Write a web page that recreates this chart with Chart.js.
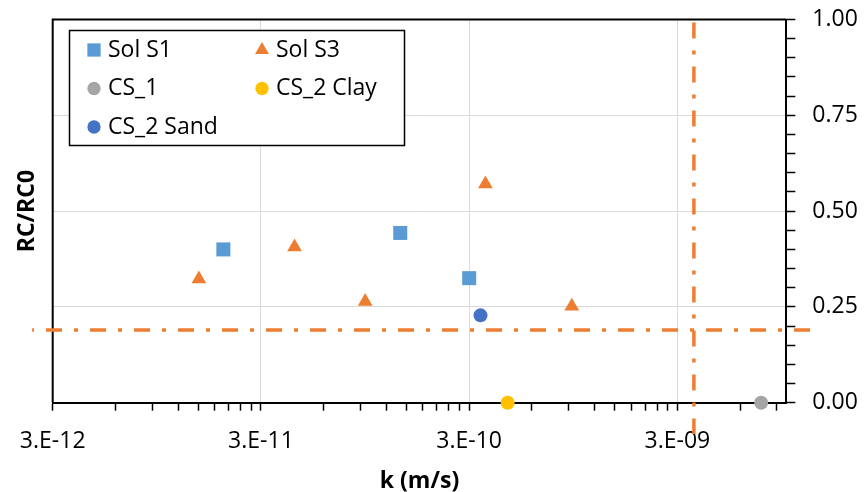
<!DOCTYPE html>
<html lang="en">
<head>
<meta charset="UTF-8">
<title>RC/RC0 vs k</title>
<script src="https://cdn.jsdelivr.net/npm/chart.js"></script>
<style>
  body { margin: 0; background: #fff; }
  #chart { display: block; }
</style>
</head>
<body>
<canvas id="chart" width="864" height="492"></canvas>
<script>
  // k (m/s) and RC/RC0 for each series
  const solS1K = [1.98e-11, 1.40e-10, 3.0e-10];
  const solS1RC = [0.40, 0.443, 0.325];
  const solS3K = [1.51e-11, 4.35e-11, 9.5e-11, 3.59e-10, 9.33e-10];
  const solS3RC = [0.323, 0.406, 0.264, 0.571, 0.252];
  const cs1K = [7.57e-9];
  const cs1RC = [0];
  const cs2ClayK = [4.59e-10];
  const cs2ClayRC = [0];
  const cs2SandK = [3.4e-10];
  const cs2SandRC = [0.228];

  // threshold lines (dash-dot)
  const hLineK = [1.3e-8, 2.39e-12];
  const hLineRC = [0.19, 0.19];
  const vLineK = [3.6e-9, 3.6e-9];
  const vLineRC = [0.992, -0.082];

  // axes
  const kMin = 3e-12, kMax = 1e-8;
  const kMajorTicks = [3e-12, 3e-11, 3e-10, 3e-9];
  const rcMajorTicks = [0, 0.25, 0.5, 0.75, 1];

  const FONT = "'Open Sans', sans-serif";
  const GRID = '#d9d9d9';

  function pts(xs, ys) {
    return xs.map((x, i) => ({ x: x, y: ys[i] }));
  }
  function isMajorK(v) {
    return kMajorTicks.some(t => Math.abs(v / t - 1) < 1e-6);
  }
  function isMajorRC(v) {
    return rcMajorTicks.some(t => Math.abs(v - t) < 1e-6);
  }
  function sciLabel(v) {
    const e = Math.floor(Math.log10(v) + 1e-9);
    const m = Math.round(v / Math.pow(10, e));
    return m + '.E' + (e < 0 ? '-' : '+') + String(Math.abs(e)).padStart(2, '0');
  }

  function marker(label, xs, ys, color, style, radius) {
    return {
      label: label,
      data: pts(xs, ys),
      pointStyle: style,
      pointRadius: radius,
      pointHoverRadius: radius,
      pointBorderWidth: 0,
      backgroundColor: color,
      borderColor: color,
      showLine: false,
      clip: false,
      inLegend: true,
      xAxisID: 'x',
      yAxisID: 'y'
    };
  }
  function dashLine(xs, ys) {
    return {
      label: '',
      data: pts(xs, ys),
      showLine: true,
      pointRadius: 0,
      borderColor: '#ed7d31',
      borderWidth: 3.5,
      borderDash: [16, 12, 4, 12],
      clip: false,
      inLegend: false,
      xAxisID: 'x',
      yAxisID: 'y'
    };
  }

  // black frame on the left and top of the plot
  const framePlugin = {
    id: 'frame',
    beforeDatasetsDraw(chart) {
      const a = chart.chartArea;
      const ctx = chart.ctx;
      ctx.save();
      ctx.strokeStyle = '#000';
      ctx.lineWidth = 2;
      ctx.beginPath();
      ctx.moveTo(a.left, a.bottom);
      ctx.lineTo(a.left, a.top);
      ctx.lineTo(a.right, a.top);
      ctx.stroke();
      ctx.restore();
    }
  };

  // legend box drawn inside the plot area
  const legendPlugin = {
    id: 'insideLegend',
    afterDraw(chart) {
      const ctx = chart.ctx;
      const box = { x: 69.5, y: 30.5, w: 335, h: 115 };
      const colX = [94, 262];
      const rowY = [50, 88.5, 127];
      ctx.save();
      ctx.fillStyle = '#fff';
      ctx.fillRect(box.x, box.y, box.w, box.h);
      ctx.strokeStyle = '#000';
      ctx.lineWidth = 1.5;
      ctx.strokeRect(box.x, box.y, box.w, box.h);
      const items = chart.data.datasets.filter(d => d.inLegend);
      items.forEach((d, i) => {
        const x = colX[i % 2];
        const y = rowY[Math.floor(i / 2)];
        ctx.fillStyle = d.backgroundColor;
        Chart.helpers.drawPoint(ctx, {
          pointStyle: d.pointStyle,
          radius: d.pointRadius * 0.95,
          borderWidth: 0,
          rotation: 0
        }, x, y);
        ctx.fillStyle = '#000';
        ctx.font = '23px ' + FONT;
        ctx.textBaseline = 'middle';
        ctx.textAlign = 'left';
        ctx.fillText(d.label, x + 14, y);
      });
      ctx.restore();
    }
  };

  // fixed axis sizes so the plot area sits where the original one does
  function fixWidth(w) {
    return scale => {
      scale.width = w;
      scale.paddingTop = 0;
      scale.paddingBottom = 0;
    };
  }

  const ctx = document.getElementById('chart').getContext('2d');
  new Chart(ctx, {
    type: 'scatter',
    data: {
      datasets: [
        marker('Sol S1', solS1K, solS1RC, '#5b9bd5', 'rect', 9.9),
        marker('Sol S3', solS3K, solS3RC, '#ed7d31', 'triangle', 8.5),
        marker('CS_1', cs1K, cs1RC, '#a5a5a5', 'circle', 7),
        marker('CS_2 Clay', cs2ClayK, cs2ClayRC, '#ffc000', 'circle', 7),
        marker('CS_2 Sand', cs2SandK, cs2SandRC, '#4472c4', 'circle', 7),
        dashLine(hLineK, hLineRC),
        dashLine(vLineK, vLineRC)
      ]
    },
    options: {
      responsive: false,
      animation: false,
      layout: { padding: { top: 19.5, left: 0, right: 0, bottom: 0 } },
      plugins: {
        legend: { display: false },
        tooltip: { enabled: false }
      },
      scales: {
        x: {
          type: 'logarithmic',
          position: 'bottom',
          min: kMin,
          max: kMax,
          afterBuildTicks: scale => {
            const ticks = [];
            kMajorTicks.forEach(t => {
              for (let m = 1; m <= 9; m++) {
                const v = t * m;
                if (v <= kMax * 1.0001) ticks.push({ value: v });
              }
            });
            scale.ticks = ticks;
          },
          afterFit: scale => {
            scale.height = 89.3;
            scale.paddingLeft = 0;
            scale.paddingRight = 0;
          },
          ticks: {
            autoSkip: false,
            maxRotation: 0,
            padding: 17,
            color: '#000',
            font: { family: FONT, size: 23 },
            callback: v => isMajorK(v) ? sciLabel(v) : ''
          },
          grid: {
            color: c => (c.tick && isMajorK(c.tick.value)) ? GRID : 'rgba(0,0,0,0)',
            tickColor: '#000',
            tickLength: 8,
            tickWidth: 1.5,
            lineWidth: 1
          },
          border: { color: '#000', width: 2 },
          title: {
            display: true,
            text: 'k (m/s)',
            color: '#000',
            font: { family: FONT, size: 23, weight: 'bold' },
            padding: { top: 0, bottom: -3 }
          }
        },
        y: {
          type: 'linear',
          position: 'right',
          min: 0,
          max: 1,
          afterFit: fixWidth(77.7),
          ticks: {
            stepSize: 0.05,
            autoSkip: false,
            padding: 17,
            color: '#000',
            font: { family: FONT, size: 23 },
            callback: v => isMajorRC(v) ? v.toFixed(2) : ''
          },
          grid: {
            color: c => (c.tick && isMajorRC(c.tick.value)) ? GRID : 'rgba(0,0,0,0)',
            tickColor: '#000',
            tickLength: 9,
            tickWidth: 1.5,
            lineWidth: 1
          },
          border: { color: '#000', width: 2 }
        },
        yTitle: {
          type: 'linear',
          position: 'left',
          min: 0,
          max: 1,
          afterFit: fixWidth(52.7),
          ticks: { display: false },
          grid: { display: false },
          border: { display: false },
          title: {
            display: true,
            text: 'RC/RC0',
            color: '#000',
            font: { family: FONT, size: 23, weight: 'bold' },
            padding: { top: 14, bottom: 0 }
          }
        }
      }
    },
    plugins: [framePlugin, legendPlugin]
  });
</script>
</body>
</html>
